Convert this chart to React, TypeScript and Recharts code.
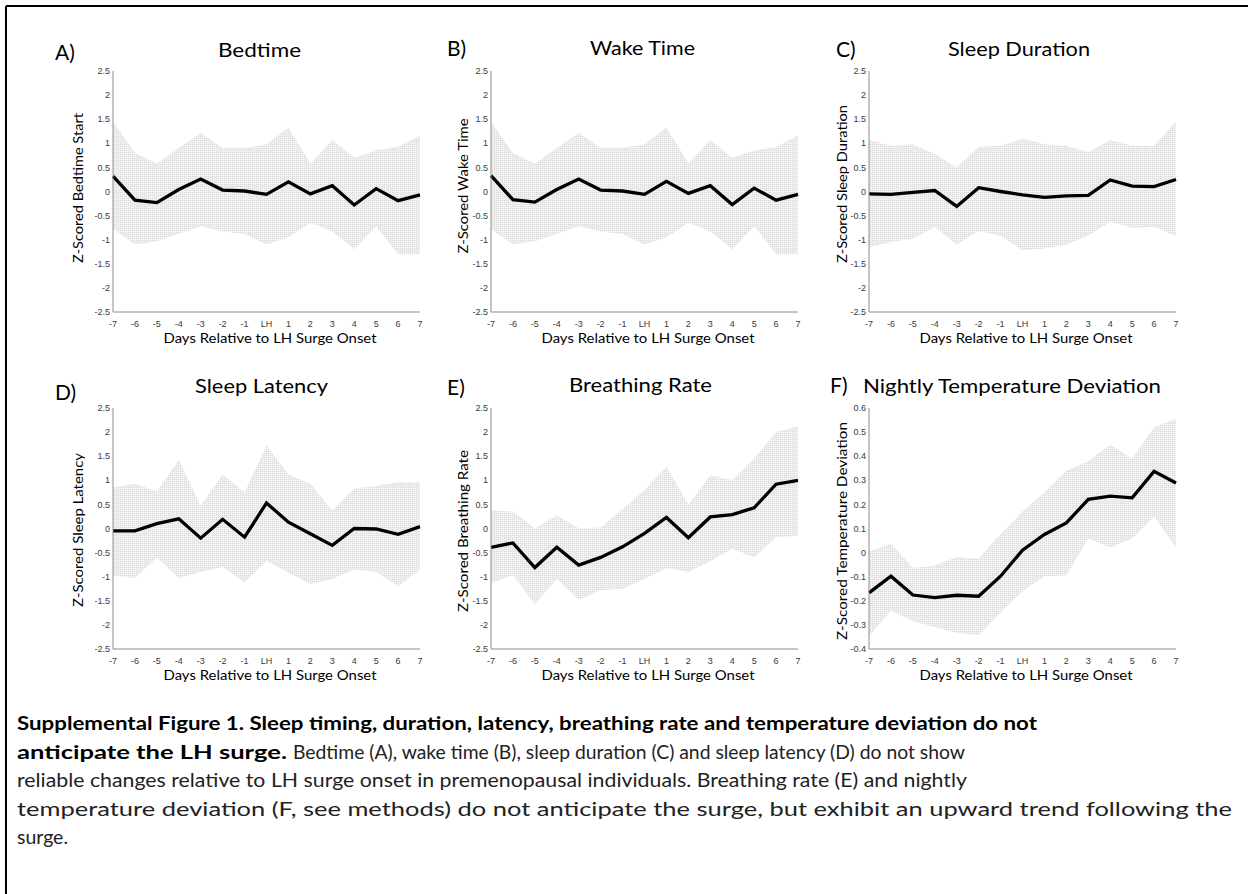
import React from 'react';
import { ComposedChart, Area, Line, XAxis, YAxis } from 'recharts';

// Days relative to LH surge onset (0 = LH surge day)
const DAYS = [-7, -6, -5, -4, -3, -2, -1, 0, 1, 2, 3, 4, 5, 6, 7];
const DAY_LABELS = ['-7', '-6', '-5', '-4', '-3', '-2', '-1', 'LH', '1', '2', '3', '4', '5', '6', '7'];
const Z_TICKS = [-2.5, -2, -1.5, -1, -0.5, 0, 0.5, 1, 1.5, 2, 2.5];
const TEMP_TICKS = [-0.4, -0.3, -0.2, -0.1, 0, 0.1, 0.2, 0.3, 0.4, 0.5, 0.6];

// A) Bedtime
const bedtimeMean = [0.32, -0.18, -0.23, 0.04, 0.26, 0.03, 0.01, -0.06, 0.2, -0.05, 0.12, -0.28, 0.06, -0.19, -0.07];
const bedtimeUpper = [1.45, 0.8, 0.58, 0.9, 1.22, 0.9, 0.9, 0.98, 1.33, 0.58, 1.07, 0.7, 0.85, 0.93, 1.16];
const bedtimeLower = [-0.78, -1.1, -1.03, -0.87, -0.72, -0.83, -0.88, -1.1, -0.95, -0.65, -0.83, -1.2, -0.72, -1.3, -1.3];

// B) Wake time
const wakeMean = [0.33, -0.17, -0.22, 0.04, 0.26, 0.03, 0.01, -0.06, 0.21, -0.04, 0.12, -0.27, 0.07, -0.18, -0.06];
const wakeUpper = [1.45, 0.8, 0.58, 0.9, 1.22, 0.9, 0.9, 0.98, 1.33, 0.58, 1.07, 0.7, 0.85, 0.93, 1.16];
const wakeLower = [-0.78, -1.1, -1.03, -0.87, -0.72, -0.83, -0.88, -1.1, -0.95, -0.65, -0.83, -1.2, -0.72, -1.3, -1.3];

// C) Sleep duration
const durationMean = [-0.05, -0.06, -0.02, 0.02, -0.31, 0.08, 0.0, -0.07, -0.12, -0.09, -0.08, 0.24, 0.11, 0.1, 0.25];
const durationUpper = [1.07, 0.95, 0.98, 0.78, 0.5, 0.93, 0.95, 1.1, 0.98, 0.95, 0.82, 1.07, 0.95, 0.95, 1.45];
const durationLower = [-1.15, -1.05, -0.98, -0.73, -1.1, -0.82, -0.92, -1.22, -1.18, -1.1, -0.92, -0.62, -0.75, -0.73, -0.93];

// D) Sleep latency
const latencyMean = [-0.05, -0.05, 0.1, 0.2, -0.2, 0.19, -0.18, 0.53, 0.13, -0.11, -0.35, 0.0, -0.01, -0.12, 0.04];
const latencyUpper = [0.85, 0.93, 0.77, 1.42, 0.47, 1.12, 0.75, 1.72, 1.12, 0.93, 0.37, 0.83, 0.88, 0.96, 0.96];
const latencyLower = [-0.97, -1.03, -0.6, -1.03, -0.9, -0.8, -1.12, -0.67, -0.92, -1.15, -1.05, -0.85, -0.9, -1.2, -0.85];

// E) Breathing rate
const breathingMean = [-0.39, -0.3, -0.81, -0.39, -0.76, -0.6, -0.38, -0.1, 0.23, -0.19, 0.24, 0.29, 0.43, 0.92, 1.0];
const breathingUpper = [0.38, 0.35, 0.0, 0.27, 0.0, 0.02, 0.4, 0.8, 1.28, 0.5, 1.1, 1.0, 1.45, 2.0, 2.12];
const breathingLower = [-1.13, -0.97, -1.57, -1.05, -1.48, -1.28, -1.25, -1.05, -0.82, -0.9, -0.68, -0.42, -0.6, -0.18, -0.15];

// F) Nightly temperature deviation
const tempMean = [-0.167, -0.098, -0.176, -0.187, -0.177, -0.181, -0.098, 0.01, 0.075, 0.123, 0.221, 0.234, 0.227, 0.337, 0.289];
const tempUpper = [0.005, 0.037, -0.064, -0.054, -0.018, -0.024, 0.075, 0.171, 0.25, 0.34, 0.379, 0.448, 0.389, 0.52, 0.555];
const tempLower = [-0.347, -0.24, -0.285, -0.31, -0.333, -0.343, -0.25, -0.16, -0.098, -0.095, 0.059, 0.021, 0.059, 0.15, 0.02];

// Layout of the 2x3 grid of plot boxes
const COLS = [113, 491, 869];
const ROWS = [71, 408];
const PLOT_W = 307;
const PLOT_H = 241;
const Y_AXIS_W = 45;
const X_AXIS_H = 25;
const PAD = 5;
const AX = '#8c8c8c';
const UI_FONT = 'Lato, "Open Sans", sans-serif';
const TICK_FONT = '"Liberation Sans", Arial, sans-serif';
const FIT = 'spacingAndGlyphs';

const fmtDay = (v: number) => {
  const i = DAYS.indexOf(v);
  return i >= 0 ? DAY_LABELS[i] : String(v);
};

type PanelProps = {
  id: string;
  left: number;
  top: number;
  mean: number[];
  lower: number[];
  upper: number[];
  yTicks: number[];
};

function Panel({ id, left, top, mean, lower, upper, yTicks }: PanelProps) {
  const rows = DAYS.map((d, i) => ({ day: d, mean: mean[i], band: [lower[i], upper[i]] }));
  const yDomain: [number, number] = [yTicks[0], yTicks[yTicks.length - 1]];
  const tickStyle = { fontSize: 9, fill: '#3a3a3a', fontFamily: TICK_FONT };
  return (
    <div style={{ position: 'absolute', left: left - Y_AXIS_W, top: top - PAD }}>
      <ComposedChart
        width={PLOT_W + Y_AXIS_W + PAD}
        height={PLOT_H + PAD + X_AXIS_H}
        data={rows}
        margin={{ top: PAD, right: PAD, bottom: 0, left: 0 }}
      >
        <defs>
          <pattern id={`dots-${id}`} width={2} height={2} patternUnits="userSpaceOnUse">
            <rect width={2} height={2} fill="#f1f1f1" />
            <rect width={1} height={1} fill="#d8d8d8" />
          </pattern>
        </defs>
        {/* labelled axes */}
        <XAxis
          type="number"
          dataKey="day"
          domain={[-7, 7]}
          ticks={DAYS}
          interval={0}
          tickFormatter={fmtDay}
          tickLine={false}
          tickSize={0}
          tickMargin={9}
          height={X_AXIS_H}
          axisLine={{ stroke: AX }}
          tick={tickStyle}
        />
        <YAxis
          type="number"
          domain={yDomain}
          ticks={yTicks}
          interval={0}
          width={Y_AXIS_W}
          tickLine={false}
          tickSize={0}
          tickMargin={3}
          axisLine={{ stroke: AX }}
          tick={tickStyle}
        />
        {/* inward tick marks on all four sides of the box */}
        <XAxis xAxisId="bt" type="number" dataKey="day" domain={[-7, 7]} ticks={DAYS} interval={0}
          orientation="bottom" mirror height={0} tick={false} tickSize={3} axisLine={false} tickLine={{ stroke: AX }} />
        <XAxis xAxisId="tp" type="number" dataKey="day" domain={[-7, 7]} ticks={DAYS} interval={0}
          orientation="top" mirror height={0} tick={false} tickSize={3} axisLine={{ stroke: AX }} tickLine={{ stroke: AX }} />
        <YAxis yAxisId="lt" type="number" domain={yDomain} ticks={yTicks} interval={0}
          orientation="left" mirror width={0} tick={false} tickSize={3} axisLine={false} tickLine={{ stroke: AX }} />
        <YAxis yAxisId="rt" type="number" domain={yDomain} ticks={yTicks} interval={0}
          orientation="right" mirror width={0} tick={false} tickSize={3} axisLine={{ stroke: AX }} tickLine={{ stroke: AX }} />
        <Area
          dataKey="band"
          stroke="none"
          fill={`url(#dots-${id})`}
          fillOpacity={1}
          isAnimationActive={false}
          activeDot={false}
        />
        <Line
          dataKey="mean"
          stroke="#000"
          strokeWidth={3.3}
          dot={false}
          activeDot={false}
          isAnimationActive={false}
        />
      </ComposedChart>
    </div>
  );
}

const panels = [
  { id: 'a', col: 0, row: 0, mean: bedtimeMean, lower: bedtimeLower, upper: bedtimeUpper, yTicks: Z_TICKS },
  { id: 'b', col: 1, row: 0, mean: wakeMean, lower: wakeLower, upper: wakeUpper, yTicks: Z_TICKS },
  { id: 'c', col: 2, row: 0, mean: durationMean, lower: durationLower, upper: durationUpper, yTicks: Z_TICKS },
  { id: 'd', col: 0, row: 1, mean: latencyMean, lower: latencyLower, upper: latencyUpper, yTicks: Z_TICKS },
  { id: 'e', col: 1, row: 1, mean: breathingMean, lower: breathingLower, upper: breathingUpper, yTicks: Z_TICKS },
  { id: 'f', col: 2, row: 1, mean: tempMean, lower: tempLower, upper: tempUpper, yTicks: TEMP_TICKS },
];

// Panel letters and titles (title x = left edge, w = drawn width)
const headings = [
  { letter: 'A)', lx: 55, ly: 60, title: 'Bedtime', tx: 218, ty: 57, tw: 83 },
  { letter: 'B)', lx: 447, ly: 56, title: 'Wake Time', tx: 590, ty: 55, tw: 105 },
  { letter: 'C)', lx: 836, ly: 57, title: 'Sleep Duration', tx: 948, ty: 56, tw: 142 },
  { letter: 'D)', lx: 55, ly: 400, title: 'Sleep Latency', tx: 195, ty: 393, tw: 133 },
  { letter: 'E)', lx: 447, ly: 395, title: 'Breathing Rate', tx: 569, ty: 392, tw: 143 },
  { letter: 'F)', lx: 830, ly: 393, title: 'Nightly Temperature Deviation', tx: 863, ty: 393, tw: 298 },
];

// Rotated y-axis titles (centre point and drawn length)
const yLabels = [
  { text: 'Z-Scored Bedtime Start', x: 77.5, y: 188, len: 150 },
  { text: 'Z-Scored Wake Time', x: 462.5, y: 186, len: 135 },
  { text: 'Z-Scored Sleep Duration', x: 841, y: 184, len: 158 },
  { text: 'Z-Scored Sleep Latency', x: 77.5, y: 530, len: 154 },
  { text: 'Z-Scored Breathing Rate', x: 462.5, y: 531, len: 162 },
  { text: 'Z-Scored Temperature Deviation', x: 841, y: 531, len: 218 },
];

const X_LABEL = 'Days Relative to LH Surge Onset';
const xLabelRows = [343, 680];

export default function App() {
  const capX = 17;
  const capY = 730;
  const capStep = 28.5;
  return (
    <div style={{ position: 'absolute', left: 0, top: 0, width: 1248, height: 894, background: '#fff', overflow: 'hidden' }}>
      {panels.map((p) => (
        <Panel
          key={p.id}
          id={p.id}
          left={COLS[p.col]}
          top={ROWS[p.row]}
          mean={p.mean}
          lower={p.lower}
          upper={p.upper}
          yTicks={p.yTicks}
        />
      ))}
      <svg width={1248} height={894} style={{ position: 'absolute', left: 0, top: 0, pointerEvents: 'none' }}>
        {/* figure frame */}
        <line x1={6} y1={6} x2={1248} y2={6} stroke="#000" strokeWidth={2} />
        <line x1={6} y1={6} x2={6} y2={894} stroke="#000" strokeWidth={2} />
        <g fontFamily={UI_FONT} fill="#000">
          {headings.map((h) => (
            <g key={h.letter}>
              <text x={h.lx} y={h.ly} fontSize={21}>{h.letter}</text>
              <text x={h.tx} y={h.ty} fontSize={19.5} textLength={h.tw} lengthAdjust={FIT}>{h.title}</text>
            </g>
          ))}
          {yLabels.map((l) => (
            <text
              key={l.text}
              transform={`translate(${l.x},${l.y}) rotate(-90)`}
              fontSize={14.2}
              textAnchor="middle"
              dominantBaseline="central"
              textLength={l.len}
              lengthAdjust={FIT}
            >
              {l.text}
            </text>
          ))}
          {xLabelRows.map((y) =>
            COLS.map((c) => (
              <text key={`${y}-${c}`} x={c + 50.5} y={y} fontSize={13.5} textLength={213} lengthAdjust={FIT}>
                {X_LABEL}
              </text>
            ))
          )}
          <g>
            <text x={capX} y={capY} fontSize={19} fontWeight="bold" textLength={1020} lengthAdjust={FIT}>
              Supplemental Figure 1. Sleep timing, duration, latency, breathing rate and temperature deviation do not
            </text>
            <text x={capX} y={capY + capStep} fontSize={19} fontWeight="bold" textLength={270} lengthAdjust={FIT}>
              anticipate the LH surge.
            </text>
            <text x={293} y={capY + capStep} fontSize={19.5} fill="#222" textLength={672} lengthAdjust={FIT}>
              Bedtime (A), wake time (B), sleep duration (C) and sleep latency (D) do not show
            </text>
            <text x={capX} y={capY + capStep * 2} fontSize={19.5} fill="#222" textLength={950} lengthAdjust={FIT}>
              reliable changes relative to LH surge onset in premenopausal individuals. Breathing rate (E) and nightly
            </text>
            <text x={capX} y={capY + capStep * 3} fontSize={19.5} fill="#222" textLength={1215} lengthAdjust={FIT}>
              temperature deviation (F, see methods) do not anticipate the surge, but exhibit an upward trend following the
            </text>
            <text x={capX} y={capY + capStep * 4} fontSize={19.5} fill="#222" textLength={51} lengthAdjust={FIT}>
              surge.
            </text>
          </g>
        </g>
      </svg>
    </div>
  );
}
